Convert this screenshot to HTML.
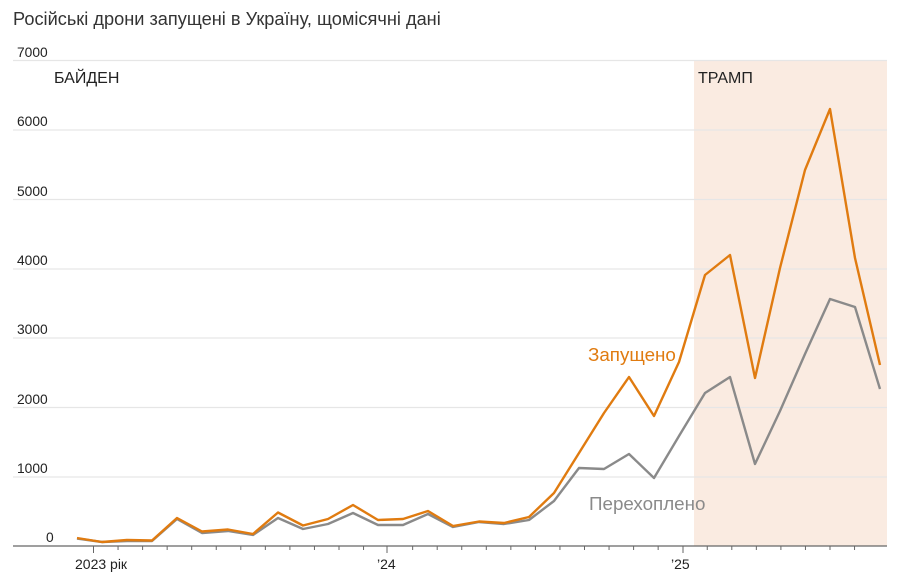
<!DOCTYPE html>
<html><head><meta charset="utf-8"><style>
body{margin:0;background:#fff;}
svg{display:block;font-family:"Liberation Sans",sans-serif;}
</style></head><body>
<svg width="916" height="575" viewBox="0 0 916 575" xmlns="http://www.w3.org/2000/svg">
<rect x="694" y="60" width="193" height="486" fill="#faebe1"/>
<text x="13" y="25" font-size="18.2" fill="#333">Російські дрони запущені в Україну, щомісячні дані</text>
<g stroke="#e6e6e6" stroke-width="1.3">
<line x1="13" x2="887" y1="60.5" y2="60.5"/>
<line x1="13" x2="887" y1="130" y2="130"/>
<line x1="13" x2="887" y1="199.5" y2="199.5"/>
<line x1="13" x2="887" y1="269" y2="269"/>
<line x1="13" x2="887" y1="338" y2="338"/>
<line x1="13" x2="887" y1="407.5" y2="407.5"/>
<line x1="13" x2="887" y1="477" y2="477"/>
</g>
<g font-size="13.8" fill="#222">
<text x="17" y="57">7000</text>
<text x="17" y="126">6000</text>
<text x="17" y="196">5000</text>
<text x="17" y="265">4000</text>
<text x="17" y="334">3000</text>
<text x="17" y="404">2000</text>
<text x="17" y="473">1000</text>
<text x="46" y="542">0</text>
</g>
<text x="54" y="83" font-size="16" fill="#222">БАЙДЕН</text>
<text x="698" y="83" font-size="16" fill="#222">ТРАМП</text>
<line x1="13" x2="887" y1="546" y2="546" stroke="#666" stroke-width="1.3"/>
<g stroke="#666" stroke-width="1">
<line x1="93.5" x2="93.5" y1="546" y2="553"/>
<line x1="387" x2="387" y1="546" y2="553"/>
<line x1="683" x2="683" y1="546" y2="553"/>
</g>
<g stroke="#666" stroke-width="1" id="mt"></g>
<text x="75" y="569" font-size="14" fill="#222">2023 рік</text>
<text x="377" y="569" font-size="14" fill="#222">’24</text>
<text x="671" y="569" font-size="14" fill="#222">’25</text>
<polyline fill="none" stroke="#8a8a8a" stroke-width="2.4" stroke-linejoin="round" points="77,538.5 102,542 127,541 152,541 177,519 202,533 228,531 253,535 278,518 303,529 328,524 353,513 378,525 403,525 428,514 453,527 479,522 504,524 529,520 554,501 579,468 604,469 629,454 654,478 679,436 705,393 730,377 755,464 780,411 805,354 830,299 855,307 880,389"/>
<polyline fill="none" stroke="#e07b10" stroke-width="2.4" stroke-linejoin="round" points="77,538 102,542 127,540 152,540.5 177,518 202,531.5 228,529.5 253,534 278,512.5 303,525.5 328,519 353,505 378,520 403,519 428,511 453,526 479,521.5 504,523 529,517 554,493 579,453 604,413 629,377 654,416 679,362 705,275 730,255 755,378 780,268 805,170 830,109 855,258 880,365"/>
<text x="588" y="361" font-size="18.8" fill="#e07b10">Запущено</text>
<text x="589" y="510" font-size="18.8" fill="#8a8a8a">Перехоплено</text>
<script>
var g=document.getElementById('mt');
for(var k=0;k<32;k++){var x=93.5+24.55*k;if(k==0||k==12||k==24)continue;var l=document.createElementNS('http://www.w3.org/2000/svg','line');l.setAttribute('x1',x);l.setAttribute('x2',x);l.setAttribute('y1',546);l.setAttribute('y2',550);g.appendChild(l);}
</script>
</svg>
</body></html>
